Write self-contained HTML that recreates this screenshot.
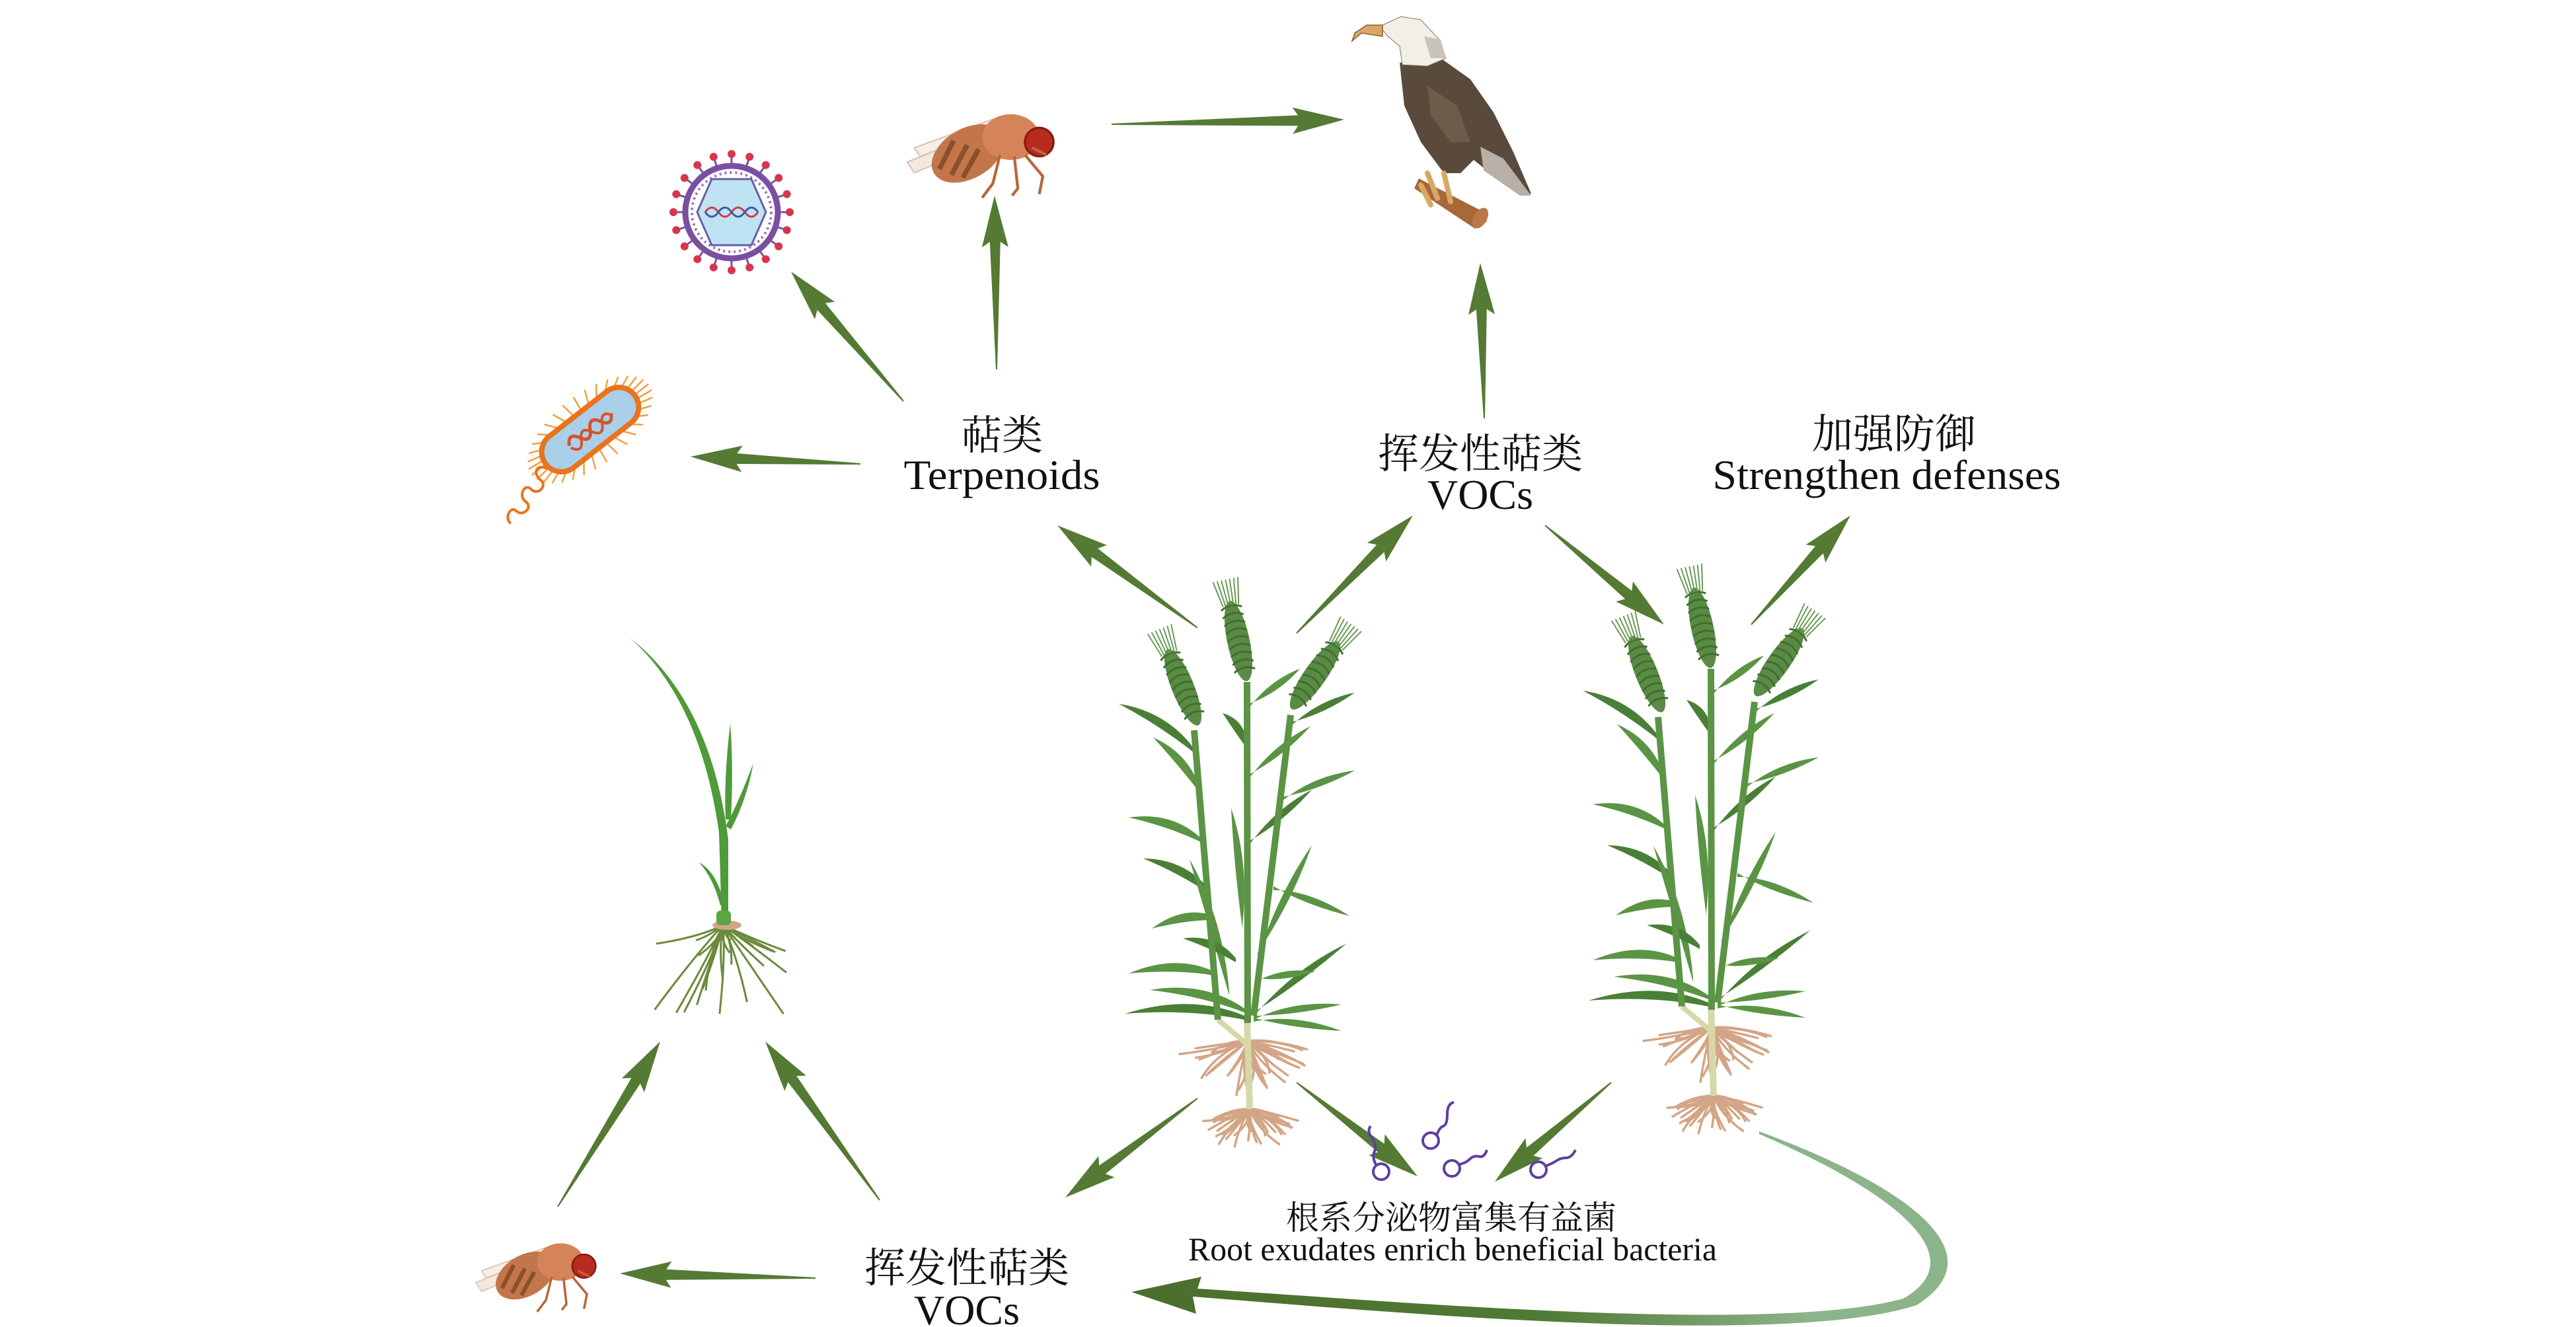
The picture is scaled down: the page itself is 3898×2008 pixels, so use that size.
<!DOCTYPE html>
<html><head><meta charset="utf-8">
<style>
html,body{margin:0;padding:0;background:#fff;}
#w{position:relative;width:3898px;height:2008px;overflow:hidden;background:#fff;}
svg{position:absolute;left:0;top:0;}
.t{font-family:"Liberation Serif","Noto Serif CJK SC","Noto Sans CJK SC",serif;fill:#111;text-anchor:middle;}
</style></head>
<body><div id="w">
<svg id="s" width="3898" height="2008" viewBox="0 0 3898 2008" xmlns="http://www.w3.org/2000/svg">
<defs>
<linearGradient id="cg" x1="2662" y1="1712" x2="1720" y2="1960" gradientUnits="userSpaceOnUse">
<stop offset="0" stop-color="#8cb48a"/><stop offset="0.4" stop-color="#4f7a35"/><stop offset="1" stop-color="#4c6e2c"/>
</linearGradient>
</defs>
<g id="arrows"></g>
<g id="plants"></g>
<path d="M2662,1712 C2900,1800 3020,1900 2900,1975 C2700,2040 2100,1985 1805,1962 L1810,1988 L1712,1955 L1818,1932 L1812,1950 C2100,1968 2680,2020 2880,1965 C2985,1905 2880,1810 2662,1716 Z" fill="url(#cg)"/>
<g transform="translate(1107,321)">
<g id="spikes"></g>
<circle r="70" fill="#fff" stroke="#7a4fa0" stroke-width="9"/>
<circle r="60" fill="none" stroke="#9a6fc0" stroke-width="4" stroke-dasharray="3 5"/>
<polygon points="-30,-50 30,-50 52,0 30,50 -30,50 -52,0" fill="#bfe3f2" stroke="#6b5ca8" stroke-width="3"/>
<path d="M-40,0 Q-30,-14 -20,0 T0,0 T20,0 T40,0" fill="none" stroke="#d23c4a" stroke-width="3"/>
<path d="M-40,0 Q-30,14 -20,0 T0,0 T20,0 T40,0" fill="none" stroke="#3a5aa8" stroke-width="3"/>
</g>
<g transform="translate(893,650) rotate(-38)">
<g id="hairs"></g>
<rect x="-85" y="-30" width="170" height="60" rx="30" fill="#a9cfe9" stroke="#e8741c" stroke-width="8"/>
<path d="M-40,0 q10,-18 20,0 t20,0 t20,0 t20,0" fill="none" stroke="#d2552a" stroke-width="5"/>
<path d="M-40,4 q10,18 20,0 t20,0 t20,0 t20,0" fill="none" stroke="#d2552a" stroke-width="4"/>
<path d="M-88,6 c-10,-18 -22,-4 -18,8 c4,12 -18,18 -20,2 c-2,-14 -22,-4 -18,10 c4,14 -18,16 -20,2 c-2,-12 -22,-2 -18,10" fill="none" stroke="#e8741c" stroke-width="4"/>
</g>
<g id="fly1" transform="translate(1362,148) scale(1.08)">
<path d="M10,90 L140,38 L150,52 L20,105 Z" fill="#f3e8df" stroke="#d9c4b4" stroke-width="2"/>
<path d="M20,70 L130,30 L138,42 L28,82 Z" fill="#f6efe8" stroke="#d9c4b4" stroke-width="2"/>
<ellipse cx="95" cy="78" rx="55" ry="35" transform="rotate(-30 95 78)" fill="#c2764a"/>
<path d="M55,100 l20,-40 M72,108 l22,-42 M88,112 l22,-40" stroke="#8c4f2e" stroke-width="7"/>
<ellipse cx="155" cy="55" rx="40" ry="32" fill="#d58358"/>
<circle cx="195" cy="62" r="20" fill="#b82b1f" stroke="#8a1a12" stroke-width="3"/>
<path d="M140,80 l-10,40 l-15,20 M160,82 l5,45 l-8,10 M175,80 l25,30 l-5,25 M185,70 l20,10" stroke="#b8673c" stroke-width="4" fill="none"/>
</g>
<g transform="translate(711,1861) scale(0.82)">
<use href="#fly1" transform="translate(-1362,-148)"/>
</g>
<g id="eagle">
<path d="M2118,95 L2180,88 L2225,120 L2260,170 L2290,230 L2317,293 L2300,293 L2255,262 L2230,242 L2210,262 L2185,262 L2150,215 L2125,160 Z" fill="#5a4a3b"/>
<path d="M2160,130 L2205,160 L2225,215 L2195,215 L2165,175 Z" fill="#6e5c4a"/>
<path d="M2240,222 L2275,240 L2317,296 L2300,296 L2245,258 Z" fill="#b8b0a6"/>
<path d="M2088,40 L2120,25 L2150,30 L2178,60 L2188,88 L2160,100 L2122,98 L2118,70 L2100,55 Z" fill="#f2efe6" stroke="#777" stroke-width="1"/>
<path d="M2155,55 L2180,60 L2188,88 L2165,88 Z" fill="#c8c2b8"/>
<path d="M2092,38 L2068,38 L2050,50 L2046,62 L2060,50 L2092,55 Z" fill="#d9a864" stroke="#8a6030" stroke-width="1.5"/>
<path d="M2147,270 L2240,318 L2250,335 L2232,346 L2140,285 Z" fill="#a8683a"/>
<ellipse cx="2240" cy="330" rx="10" ry="17" transform="rotate(30 2240 330)" fill="#b97a48"/>
<path d="M2160,262 L2175,300 M2185,262 L2195,305 M2150,280 L2165,310" stroke="#d9a864" stroke-width="8" stroke-linecap="round"/>
</g>
<g fill="none" stroke="#5d3fa0" stroke-width="4">
<circle cx="2090" cy="1773" r="12"/><path d="M2082,1762 q-6,-10 -2,-20 t-4,-20 t-2,-18"/>
<circle cx="2165" cy="1726" r="12"/><path d="M2174,1718 q4,-12 10,-14 t6,-18 t10,-18"/>
<circle cx="2197" cy="1768" r="12"/><path d="M2208,1762 q10,-2 16,-8 t14,-4 t12,-10"/>
<circle cx="2328" cy="1770" r="12"/><path d="M2340,1764 q10,-4 16,-8 t14,-4 t14,-12"/>
</g>
<text class="t" x="1516" y="680" font-size="62">萜类</text>
<text class="t" x="1516" y="740" font-size="64" textLength="297" lengthAdjust="spacingAndGlyphs">Terpenoids</text>
<text class="t" x="2240" y="708" font-size="62">挥发性萜类</text>
<text class="t" x="2240" y="770" font-size="64">VOCs</text>
<text class="t" x="2866" y="678" font-size="62">加强防御</text>
<text class="t" x="2855" y="740" font-size="64" textLength="527" lengthAdjust="spacingAndGlyphs">Strengthen defenses</text>
<text class="t" x="2196" y="1860" font-size="50">根系分泌物富集有益菌</text>
<text class="t" x="2198" y="1907" font-size="50" textLength="800" lengthAdjust="spacingAndGlyphs">Root exudates enrich beneficial bacteria</text>
<text class="t" x="1463" y="1940" font-size="62">挥发性萜类</text>
<text class="t" x="1463" y="2004" font-size="64">VOCs</text>
</svg>
</div>
<script>
var NS="http://www.w3.org/2000/svg";
function el(tag,attrs,parent){var e=document.createElementNS(NS,tag);for(var k in attrs)e.setAttribute(k,attrs[k]);parent.appendChild(e);return e;}
var A=document.getElementById("arrows");
function arrow(x1,y1,x2,y2,hw,hl){
  hw=hw||20;hl=hl||70;
  var dx=x2-x1,dy=y2-y1,L=Math.hypot(dx,dy),ux=dx/L,uy=dy/L,px=-uy,py=ux;
  var bx=x2-ux*hl,by=y2-uy*hl;
  var bw=8,tw=1;
  var pts=[[x1+px*tw,y1+py*tw],[bx+px*bw,by+py*bw],[bx+px*hw-ux*8,by+py*hw-uy*8],[x2,y2],[bx-px*hw-ux*8,by-py*hw-uy*8],[bx-px*bw,by-py*bw],[x1-px*tw,y1-py*tw]];
  el("polygon",{points:pts.map(function(p){return p[0].toFixed(1)+","+p[1].toFixed(1)}).join(" "),fill:"#557a34"},A);
}
arrow(1682,188,2034,181);
arrow(1367,607,1197,411);
arrow(1508,559,1505,296);
arrow(1302,702,1045,691);
arrow(2246,633,2240,398);
arrow(1812,950,1600,795);
arrow(1962,958,2138,780);
arrow(2338,795,2518,945);
arrow(2650,945,2800,780);
arrow(1812,1662,1612,1812);
arrow(1962,1638,2145,1780);
arrow(2438,1638,2262,1788);
arrow(1234,1934,938,1927);
arrow(1331,1816,1158,1576);
arrow(844,1826,999,1576);
var S=document.getElementById("spikes");
for(var i=0;i<20;i++){var a=i/20*Math.PI*2;var c=Math.cos(a),s=Math.sin(a);
 el("line",{x1:c*72,y1:s*72,x2:c*86,y2:s*86,stroke:"#7a4fa0","stroke-width":3},S);
 el("circle",{cx:c*88,cy:s*88,r:6,fill:"#d8344e"},S);}
var H=document.getElementById("hairs");
for(var i=0;i<34;i++){var t=i/34*Math.PI*2;var x=Math.cos(t)*100,y=Math.sin(t)*42;
 el("line",{x1:x*0.8,y1:y*0.8,x2:x*1.12,y2:y*1.3,stroke:"#f0a040","stroke-width":2.5},H);}
var P=document.getElementById("plants");
var seed=7;function rnd(){seed=(seed*9301+49297)%233280;return seed/233280;}
function leaf(g,x1,y1,x2,y2,w,col){
 var dx=x2-x1,dy=y2-y1,L=Math.hypot(dx,dy),px=-dy/L,py=dx/L;
 var mx=x1+dx*0.45,my=y1+dy*0.45-L*0.08;
 var d="M"+x1+","+y1+" Q"+(mx+px*w)+","+(my+py*w)+" "+x2+","+y2+" Q"+(mx-px*w*0.3)+","+(my-py*w*0.3)+" "+x1+","+(y1+6)+"Z";
 el("path",{d:d,fill:col||"#4f8a3c"},g);
}
function roots(g,cx,cy,rx,ry,n){
 for(var i=0;i<n;i++){var a=Math.PI*(0.05+0.9*rnd());var r=0.5+0.5*rnd();
  var ex=cx+Math.cos(a)*rx*r*(rnd()<0.5?-1:1)*1, ey=cy+Math.sin(a)*ry*r;
  var qx=(cx+ex)/2+(rnd()-0.5)*30,qy=(cy+ey)/2+(rnd()-0.5)*20;
  el("path",{d:"M"+cx+","+cy+" Q"+qx+","+qy+" "+ex+","+ey,stroke:"#d3a586","stroke-width":3.5,fill:"none","stroke-linecap":"round"},g);}
}
function spike(g,x,y,ang){
 var s=el("g",{transform:"translate("+x+","+y+") rotate("+ang+")"},g);
 el("ellipse",{cx:0,cy:0,rx:17,ry:62,fill:"#5b8a45"},s);
 for(var k=-50;k<55;k+=12){el("path",{d:"M-16,"+k+" q16,-10 32,0",stroke:"#40702f","stroke-width":3,fill:"none"},s);}
 for(var k=-12;k<=12;k+=4){el("line",{x1:k,y1:-55,x2:k*1.6,y2:-95,stroke:"#6a9a55","stroke-width":2},s);}
}
function wheat(dx,dy){
 var g=el("g",{transform:"translate("+dx+","+dy+")"},P);
 seed=7;
 roots(g,1888,1575,110,85,40);
 roots(g,1891,1678,85,65,34);
 el("line",{x1:1887,y1:1540,x2:1891,y2:1678,stroke:"#d6d8a8","stroke-width":10},g);
 el("line",{x1:1843,y1:1543,x2:1887,y2:1580,stroke:"#d6d8a8","stroke-width":8},g);
 var L=[[1807,1133,1693,1065],[1817,1195,1745,1116],[1817,1268,1708,1237],[1830,1346,1730,1299],[1837,1386,1743,1405],[1837,1470,1708,1473],[1883,1537,1702,1534],[1883,1526,1740,1498],[1890,1065,1967,1012],[1953,1093,2050,1048],[1890,1172,1983,1099],[1940,1206,2050,1166],[1890,1273,1985,1195],[1903,1442,1985,1279],[1927,1341,2042,1386],[1897,1532,2037,1428],[1897,1537,2030,1520],[1897,1540,2030,1560],[1887,1127,1850,1079],[1880,1400,1863,1223],[1860,1500,1800,1300],[1870,1450,1790,1420],[1900,1480,1990,1470]];
 L.forEach(function(l,i){leaf(g,l[0],l[1],l[2],l[3],18,i%3==0?"#4a7f36":"#5a9444");});
 el("line",{x1:1807,y1:1105,x2:1843,y2:1543,stroke:"#5a9444","stroke-width":10},g);
 el("line",{x1:1887,y1:1032,x2:1888,y2:1548,stroke:"#5a9444","stroke-width":10},g);
 el("line",{x1:1953,y1:1082,x2:1897,y2:1537,stroke:"#5a9444","stroke-width":10},g);
 spike(g,1790,1040,-22);spike(g,1874,970,-12);spike(g,1990,1022,35);
}
wheat(0,0);wheat(702,-20);
var sg=el("g",{},P);seed=3;
for(var i=0;i<22;i++){var ex=987+rnd()*211,ey=1420+rnd()*120;
 el("path",{d:"M1094,1400 Q"+((1094+ex)/2+(rnd()-.5)*30)+","+(1410+(ey-1400)*0.3)+" "+ex+","+ey,stroke:"#6b8a3a","stroke-width":3,fill:"none"},sg);}
el("ellipse",{cx:1100,cy:1400,rx:22,ry:7,fill:"#d3a586"},sg);
el("path",{d:"M953,965 Q1060,1060 1088,1260 L1092,1395 L1102,1395 L1102,1270 Q1075,1060 953,965Z",fill:"#4f9a3a"},sg);
el("path",{d:"M1105,1095 Q1095,1180 1098,1240 L1106,1240 Q1110,1160 1105,1095Z",fill:"#4f9a3a"},sg);
el("path",{d:"M1140,1155 Q1115,1220 1098,1250 L1106,1255 Q1130,1210 1140,1155Z",fill:"#4f9a3a"},sg);
el("path",{d:"M1058,1305 Q1080,1330 1090,1370 L1096,1368 Q1085,1320 1058,1305Z",fill:"#4f9a3a"},sg);
el("rect",{x:1084,y:1378,width:22,height:22,rx:6,fill:"#5aa642"},sg);
</script>
</body></html>
